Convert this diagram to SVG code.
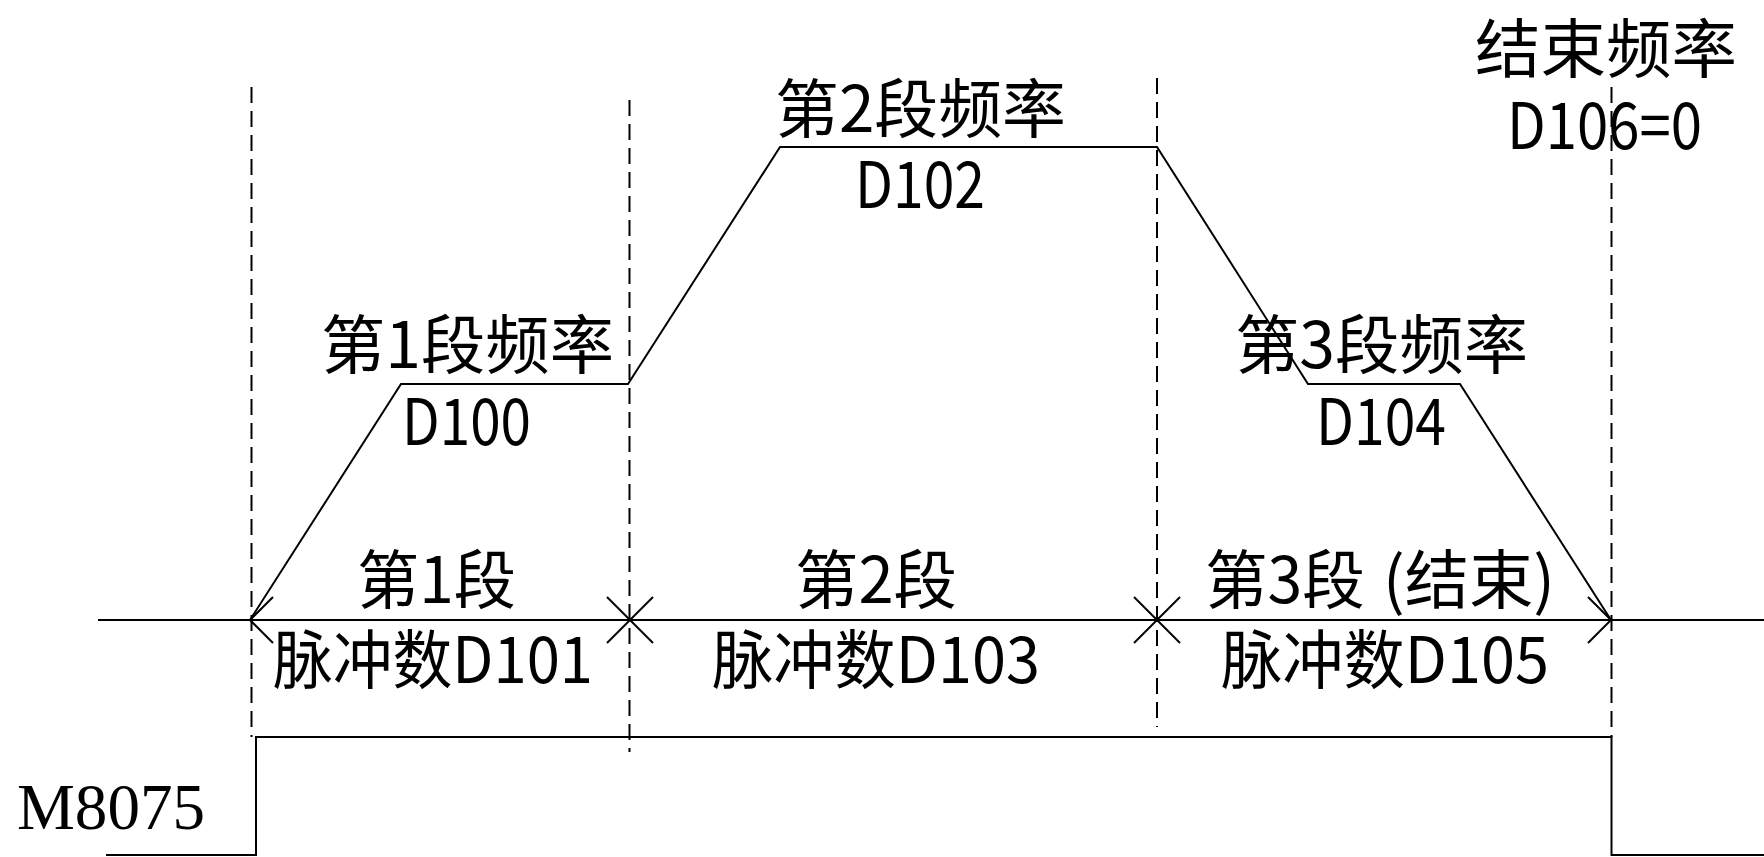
<svg xmlns="http://www.w3.org/2000/svg" width="1764" height="857" viewBox="0 0 1764 857">
<style>
.ln{fill:none;stroke:#000;stroke-width:2;stroke-linejoin:miter}
.dash{fill:none;stroke:#000;stroke-width:2;stroke-dasharray:16 8}
.t{font-family:"Noto Sans CJK SC","Noto Sans",sans-serif;font-size:64px;fill:#000}
.m{font-family:"Liberation Serif","Times New Roman",serif;font-size:66px;fill:#000}
</style>
<rect width="1764" height="857" fill="#fff"/>
<g id="guides">
<line class="dash" x1="251.5" y1="87" x2="251.5" y2="737"/>
<line class="dash" x1="629.5" y1="100" x2="629.5" y2="752"/>
<line class="dash" x1="1157" y1="78" x2="1157" y2="727"/>
<line class="dash" x1="1611.5" y1="87" x2="1611.5" y2="737"/>
</g>
<g id="connectors">
<line id="axis" class="ln" x1="98" y1="620" x2="1764" y2="620"/>
<polyline id="profile" class="ln" points="250,620 401,384 628,384 780,147 1157,147 1308,384 1460,384 1611,620"/>
<polyline id="arrow-left" class="ln" points="273,597 250,620 273,643"/>
<g id="mark-2" class="ln"><line x1="607" y1="597" x2="653" y2="643"/><line x1="653" y1="597" x2="607" y2="643"/></g>
<g id="mark-3" class="ln"><line x1="1134" y1="597" x2="1180" y2="643"/><line x1="1180" y1="597" x2="1134" y2="643"/></g>
<polyline id="arrow-right" class="ln" points="1588,597 1611,620 1588,643"/>
<polyline id="pulse" class="ln" points="106,855 256,855 256,737 1611.5,737 1611.5,855 1764,855"/>
</g>
<g id="label-end"><text class="t" x="1475" y="72" textLength="262" lengthAdjust="spacingAndGlyphs">结束频率</text>
<text class="t" x="1507" y="149" textLength="195" lengthAdjust="spacingAndGlyphs">D106=0</text></g>
<g id="label-f2"><text class="t" x="775" y="132" textLength="291" lengthAdjust="spacingAndGlyphs">第2段频率</text>
<text class="t" x="855" y="208" textLength="130" lengthAdjust="spacingAndGlyphs">D102</text></g>
<g id="label-f1"><text class="t" x="321" y="368" textLength="293" lengthAdjust="spacingAndGlyphs">第1段频率</text>
<text class="t" x="402" y="445" textLength="129" lengthAdjust="spacingAndGlyphs">D100</text></g>
<g id="label-f3"><text class="t" x="1235" y="368" textLength="293" lengthAdjust="spacingAndGlyphs">第3段频率</text>
<text class="t" x="1316" y="445" textLength="130" lengthAdjust="spacingAndGlyphs">D104</text></g>
<g id="label-s1"><text class="t" x="357" y="603" textLength="159" lengthAdjust="spacingAndGlyphs">第1段</text>
<text class="t" x="273" y="683" textLength="320" lengthAdjust="spacingAndGlyphs">脉冲数D101</text></g>
<g id="label-s2"><text class="t" x="795" y="603" textLength="162" lengthAdjust="spacingAndGlyphs">第2段</text>
<text class="t" x="712" y="683" textLength="328" lengthAdjust="spacingAndGlyphs">脉冲数D103</text></g>
<g id="label-s3"><text class="t" y="603"><tspan x="1205" textLength="160" lengthAdjust="spacingAndGlyphs">第3段</tspan><tspan x="1383" textLength="172" lengthAdjust="spacingAndGlyphs">(结束)</tspan></text>
<text class="t" x="1221" y="683" textLength="328" lengthAdjust="spacingAndGlyphs">脉冲数D105</text></g>
<g id="label-m"><text class="m" x="17" y="829" textLength="188" lengthAdjust="spacingAndGlyphs">M8075</text></g>
</svg>
